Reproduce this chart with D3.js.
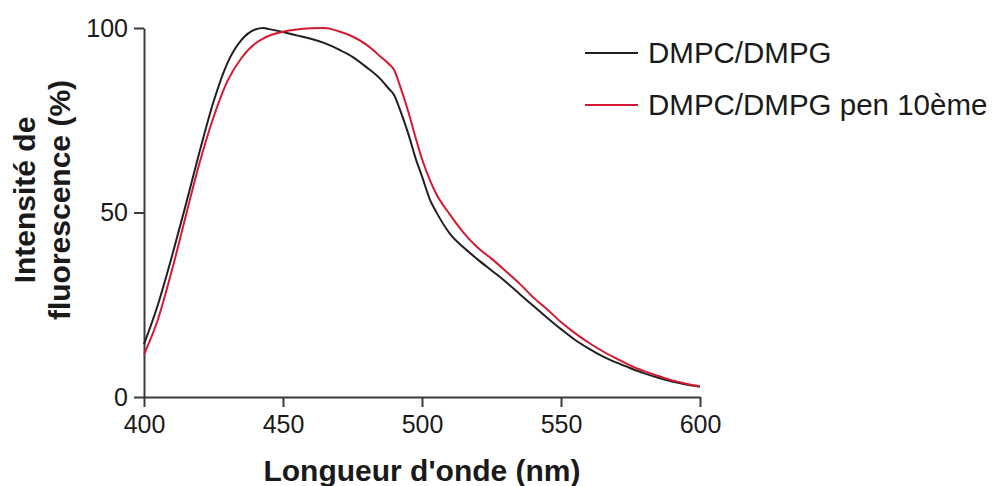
<!DOCTYPE html>
<html>
<head>
<meta charset="utf-8">
<script src="https://cdn.jsdelivr.net/npm/d3@7/dist/d3.min.js"></script>
<style>
  html, body { margin: 0; padding: 0; background: #fff; }
  svg { display: block; }
  text { font-family: "Liberation Sans", Arial, Helvetica, sans-serif; fill: #1a1a1a; }
</style>
</head>
<body>
<svg id="chart" width="996" height="486"></svg>
<script>
const wavelengths = [400,405,410,415,420,425,430,435,440,443,445,450,455,460,465,470,475,480,485,488,490,492,495,498,500,503,505,510,515,520,525,530,535,540,545,550,555,560,565,570,575,580,585,590,595,600];
const dmpcDmpg = [14.3,25.0,38.0,52.0,66.5,80.0,90.5,96.7,99.6,100,99.7,98.9,98.0,97.1,95.9,94.2,92.2,89.4,86.2,83.6,81.8,78.0,71.5,64.0,59.8,53.2,50.3,44.3,40.5,37.3,34.3,31.3,28.0,24.7,21.5,18.4,15.5,13.1,11.0,9.3,7.8,6.4,5.2,4.2,3.4,2.8];
const dmpcDmpgPen = [11.5,21.0,34.2,49.0,63.5,75.8,85.6,91.8,95.8,97.2,97.9,99.0,99.6,99.9,100,99.1,97.7,95.5,92.3,90.3,88.6,84.5,77.5,69.5,64.5,58.5,55.2,49.5,44.5,40.5,37.5,34.2,30.8,27.0,23.8,20.3,17.3,14.7,12.4,10.4,8.5,7.0,5.7,4.5,3.6,2.9];
const seriesNames = ["DMPC/DMPG", "DMPC/DMPG pen 10ème"];
const seriesColors = ["#231f20", "#d41a30"];
const xTicks = [400,450,500,550,600];
const yTicks = [0,50,100];
const xTitle = "Longueur d'onde (nm)";
const yTitleLines = ["Intensité de", "fluorescence (%)"];

const svg = d3.select("#chart");
const x = d3.scaleLinear().domain([400,600]).range([144,700]);
const y = d3.scaleLinear().domain([0,100]).range([397,28]);
const axisColor = "#3a3a3a";

// X axis
const xAxis = svg.append("g").attr("transform", `translate(0,${y(0)})`)
  .call(d3.axisBottom(x).tickValues(xTicks).tickSize(10).tickPadding(8).tickSizeOuter(0));
xAxis.select(".domain").attr("stroke", axisColor).attr("stroke-width", 2);
xAxis.selectAll(".tick line").attr("stroke", axisColor).attr("stroke-width", 2);
xAxis.selectAll(".tick text").attr("font-size", 25).attr("font-family", "Liberation Sans, Arial, sans-serif").attr("fill", "#1a1a1a");

// Y axis
const yAxis = svg.append("g").attr("transform", `translate(${x(400)},0)`)
  .call(d3.axisLeft(y).tickValues(yTicks).tickSize(10).tickPadding(6).tickSizeOuter(0));
yAxis.select(".domain").attr("stroke", axisColor).attr("stroke-width", 2);
yAxis.selectAll(".tick line").attr("stroke", axisColor).attr("stroke-width", 2);
yAxis.selectAll(".tick text").attr("font-size", 25).attr("font-family", "Liberation Sans, Arial, sans-serif").attr("fill", "#1a1a1a");

// Lines
const series = [dmpcDmpg, dmpcDmpgPen];
const line = d3.line().x((d,i) => x(wavelengths[i])).y(d => y(d)).curve(d3.curveMonotoneX);
series.forEach((vals, k) => {
  svg.append("path").datum(vals)
    .attr("d", line)
    .attr("fill", "none")
    .attr("stroke", seriesColors[k])
    .attr("stroke-width", 2)
    .attr("stroke-linejoin", "round");
});

// Axis titles
svg.append("text")
  .attr("x", 422).attr("y", 481)
  .attr("text-anchor", "middle")
  .attr("font-size", 30).attr("font-weight", "bold")
  .text(xTitle);

const yt = svg.append("text")
  .attr("transform", "translate(35,200) rotate(-90)")
  .attr("text-anchor", "middle")
  .attr("font-size", 30).attr("font-weight", "bold");
yTitleLines.forEach((t, i) => {
  yt.append("tspan").attr("x", 0).attr("y", i * 35).text(t);
});

// Legend
const legendY = [53, 105];
series.forEach((vals, k) => {
  svg.append("line")
    .attr("x1", 585).attr("x2", 638)
    .attr("y1", legendY[k]).attr("y2", legendY[k])
    .attr("stroke", seriesColors[k]).attr("stroke-width", 2);
  svg.append("text")
    .attr("x", 648).attr("y", legendY[k])
    .attr("dy", "0.35em")
    .attr("font-size", 29.5)
    .text(seriesNames[k]);
});
</script>
</body>
</html>
